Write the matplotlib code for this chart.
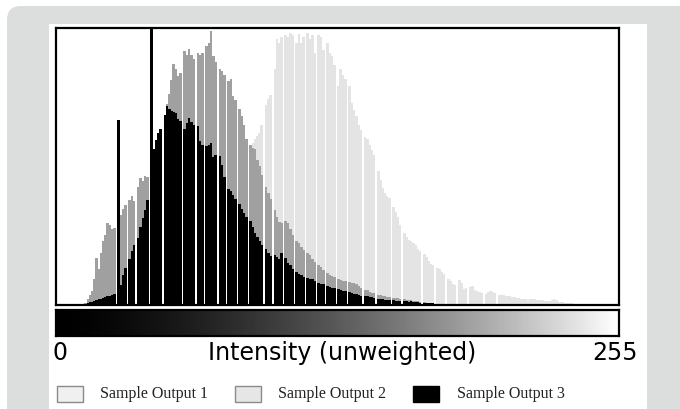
import numpy as np
import matplotlib
matplotlib.use("Agg")
import matplotlib.pyplot as plt
from matplotlib.patches import FancyBboxPatch, Rectangle
from matplotlib.colors import PowerNorm

# ---------------------------------------------------------------------------
#  DATA  (per-intensity-bin counts, in plot units; 0 = empty bin)
# ---------------------------------------------------------------------------
N_BINS = 256

# Sample Output 1 (mid gray), bins 13..172
MID_START = 13
MID = [2, 6, 10, 14, 26, 47, 36, 52, 64, 70, 82, 80, 76, 77, 0, 88, 90, 96, 100, 0,
       105, 109, 104, 0, 118, 127, 124, 129, 128, 0, 150, 150, 160, 168, 175, 0,
       185, 201, 211, 225, 241, 236, 229, 232, 0, 254, 250, 256, 250, 246, 0,
       252, 250, 252, 0, 259, 262, 274, 249, 243, 0, 236, 234, 230, 0, 224, 226,
       209, 205, 0, 196, 189, 180, 166, 0, 160, 157, 156, 145, 139, 130, 0,
       118, 112, 106, 0, 95, 88, 83, 82, 0, 84, 82, 76, 70, 0, 64, 62, 58, 55, 0,
       52, 50, 46, 43, 0, 40, 38, 35, 0, 32, 30, 29, 28, 0, 26, 25, 24, 24, 0,
       23, 22, 22, 21, 19, 17, 0, 15, 15, 13, 12, 12, 0, 10, 10, 9, 9, 8, 8, 0,
       7, 7, 7, 6, 0, 6, 5, 5, 5, 4, 4, 4, 3, 0, 3, 2, 2, 2, 1, 1]

# Sample Output 2 (light gray), bins 58..243
LIGHT_START = 58
LIGHT = [5, 8, 12, 16, 20, 0, 30, 36, 42, 0, 55, 62, 70, 78, 86, 0, 96, 102, 108, 0,
         118, 124, 130, 135, 0, 142, 146, 150, 154, 0, 158, 162, 166, 169, 172, 180, 0,
         200, 206, 210, 0, 236, 266, 262, 268, 0, 270, 268, 272, 270, 0,
         262, 271, 262, 268, 0, 272, 266, 270, 252, 0, 270, 268, 255, 0,
         262, 252, 249, 240, 0, 219, 236, 230, 226, 0, 219, 202, 195, 189, 180, 175, 0,
         168, 166, 160, 155, 150, 0, 134, 125, 117, 112, 109, 107, 0, 98, 93, 88, 80, 0,
         72, 68, 65, 64, 62, 60, 56, 54, 0, 51, 48, 44, 41, 40, 0, 37, 36, 33, 31, 0,
         26, 24, 21, 20, 0, 25, 22, 16, 17, 0, 18, 19, 15, 14, 13, 12, 0,
         11, 13, 14, 13, 12, 0, 10, 10, 10, 9, 9, 9, 8, 8, 7, 7, 6, 6, 6, 5, 6, 6, 6,
         5, 5, 5, 5, 4, 4, 4, 5, 6, 5, 3, 3, 3, 2, 2, 2, 2, 1, 1, 1, 1, 1, 1, 1, 1, 1]

# Sample Output 3 (black), bins 13..180
BLACK_START = 13
BLACK = [1, 2, 3, 3, 4, 5, 6, 6, 7, 8, 9, 9, 10, 11, 0, 185, 20, 30, 37, 0,
         46, 54, 60, 0, 67, 78, 87, 95, 105, 0, 290, 156, 165, 172, 176, 0,
         190, 199, 196, 194, 193, 192, 186, 184, 0, 176, 182, 187, 183, 180, 0,
         179, 164, 160, 0, 159, 160, 162, 148, 150, 0, 149, 140, 128, 0,
         116, 114, 110, 106, 0, 101, 96, 92, 88, 0, 84, 78, 72, 68, 64, 60, 0,
         56, 52, 49, 0, 50, 48, 46, 52, 0, 47, 42, 40, 36, 0, 33, 31, 30, 28, 0,
         27, 26, 26, 24, 0, 22, 21, 21, 0, 19, 18, 17, 17, 0, 16, 15, 14, 14, 0,
         13, 12, 11, 11, 10, 9, 0, 9, 9, 8, 8, 7, 0, 6, 6, 6, 5, 5, 5, 0,
         5, 4, 4, 4, 0, 4, 4, 3, 4, 3, 3, 3, 2, 0, 2, 2, 2, 2, 2, 0,
         1, 1, 1, 1, 0, 1, 1, 1]

LEGEND_LABELS = ["Sample Output 1", "Sample Output 2", "Sample Output 3"]
X_MIN_LABEL = "0"
X_MAX_LABEL = "255"
X_TITLE = "Intensity (unweighted)"

# colours
C_BG = "#dcdddd"
C_LIGHT = "#e4e4e4"
C_MID = "#a0a0a0"
C_BLACK = "#000000"
BAR_W = 1.2   # a bit wider than a bin so empty bins read as thin white lines


def full(start, vals):
    arr = np.zeros(N_BINS)
    arr[start:start + len(vals)] = vals
    return arr


light = full(LIGHT_START, LIGHT)
mid = full(MID_START, MID)
black = full(BLACK_START, BLACK)
bins = np.arange(N_BINS) + 0.5

# ---------------------------------------------------------------------------
#  FIGURE
# ---------------------------------------------------------------------------
W, H = 680, 409
fig = plt.figure(figsize=(W / 100, H / 100), dpi=100)

# background frame (pixel coordinates)
bg = fig.add_axes([0, 0, 1, 1])
bg.set_xlim(0, W)
bg.set_ylim(H, 0)
bg.axis("off")
bg.add_patch(FancyBboxPatch((7, 6), 720, 460, boxstyle="round,pad=0,rounding_size=14",
                            facecolor=C_BG, edgecolor="none"))
bg.add_patch(Rectangle((49, 24), 598, 400, facecolor="white", edgecolor="none"))


def px_axes(x0, y0, x1, y1):
    return fig.add_axes([x0 / W, 1 - y1 / H, (x1 - x0) / W, (y1 - y0) / H])


# --- histogram ---
ax = px_axes(56, 28, 619, 305)
for series, col in [(light, C_LIGHT), (mid, C_MID), (black, C_BLACK)]:
    keep = series > 0
    ax.bar(bins[keep], series[keep], width=BAR_W, color=col, linewidth=0)
# keep the empty bins white through every layer
empty = (light == 0) & (mid == 0) & (black == 0)
gaps = bins[empty & (bins > 13) & (bins < 244)]
ax.bar(gaps, np.full(len(gaps), 300), width=0.75, color="white", linewidth=0)
ax.set_xlim(0, N_BINS)
ax.set_ylim(0, 277)
ax.set_xticks([])
ax.set_yticks([])
for s in ax.spines.values():
    s.set_linewidth(1.6)
    s.set_color("black")
    s.set_zorder(5)

# --- gray ramp ---
cax = px_axes(56, 310, 619, 336)
cax.imshow(np.linspace(0, 1, 256)[None, :], aspect="auto", cmap="gray",
           norm=PowerNorm(gamma=1.5, vmin=0, vmax=1), extent=(0, 256, 0, 1))
cax.set_xticks([])
cax.set_yticks([])
for s in cax.spines.values():
    s.set_linewidth(1.6)
    s.set_color("black")

# --- axis labels ---
bg.text(53, 353, X_MIN_LABEL, fontsize=17, ha="left", va="center", color="black")
bg.text(638, 353, X_MAX_LABEL, fontsize=17, ha="right", va="center", color="black")
bg.text(342, 353, X_TITLE, fontsize=17, ha="center", va="center", color="black")

# --- legend ---
box_x = [57, 235, 413]
text_x = [100, 278, 457]
box_fc = ["#f0f0f0", "#e6e6e6", "black"]
box_ec = ["#8a8a8a", "#8a8a8a", "black"]
for bx, tx, fc, ec, lab in zip(box_x, text_x, box_fc, box_ec, LEGEND_LABELS):
    bg.add_patch(Rectangle((bx, 386), 26, 16, facecolor=fc, edgecolor=ec, linewidth=1))
    bg.text(tx, 394, lab, fontsize=11.5, family="Liberation Serif",
            ha="left", va="center", color="#222222")

fig.savefig("out.png", dpi=100)
